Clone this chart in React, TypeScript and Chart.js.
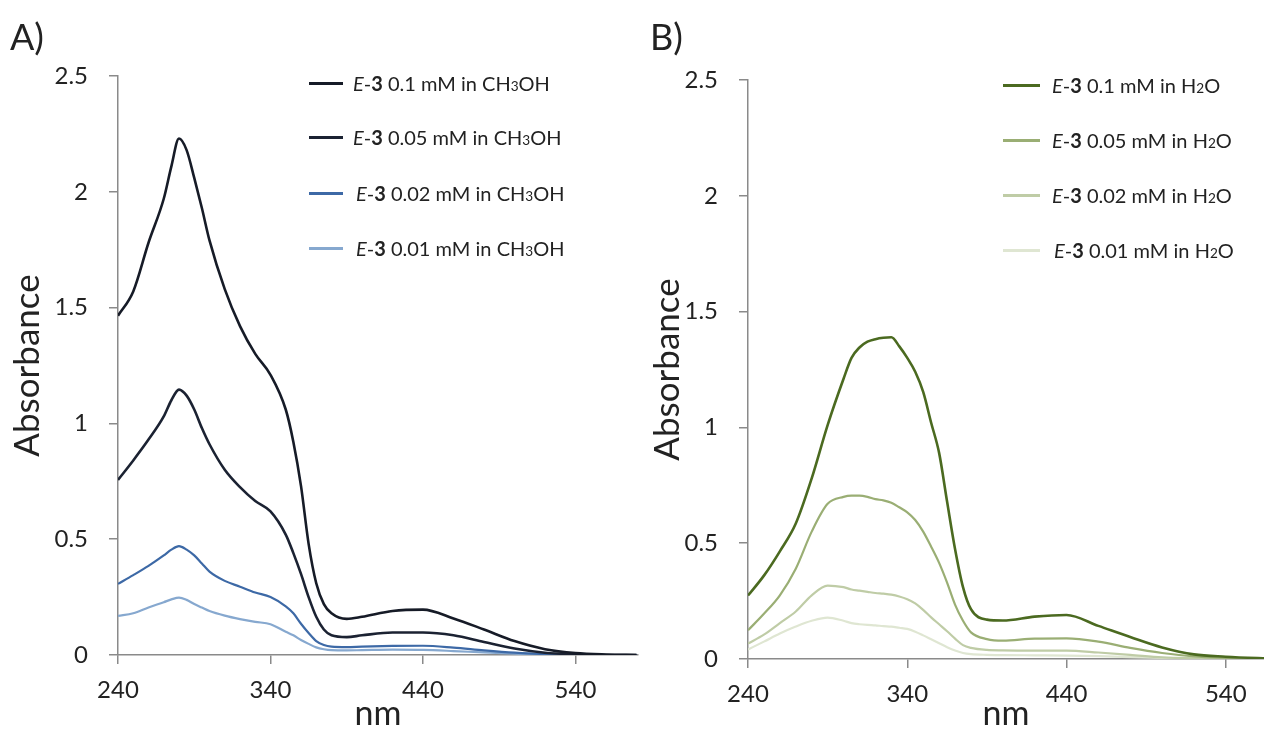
import React, { useEffect, useRef } from "react";
import { Chart, registerables } from "chart.js";

Chart.register(...registerables);

// ---------- Panel A: E-3 in CH3OH ----------
const wavelengthsA = [240, 250, 260, 270, 275, 280, 285, 290, 295, 300, 310, 320, 330, 340, 350, 355, 360, 365, 370, 375, 380, 390, 400, 420, 440, 460, 480, 500, 520, 540, 560, 580];
const methanol010 = [1.465, 1.57, 1.78, 1.97, 2.11, 2.23, 2.18, 2.06, 1.93, 1.79, 1.58, 1.42, 1.3, 1.21, 1.06, 0.92, 0.73, 0.48, 0.31, 0.22, 0.18, 0.156, 0.165, 0.19, 0.196, 0.158, 0.11, 0.06, 0.025, 0.008, 0.002, 0];
const methanol005 = [0.756, 0.84, 0.93, 1.03, 1.1, 1.146, 1.12, 1.06, 0.98, 0.91, 0.8, 0.725, 0.665, 0.62, 0.52, 0.44, 0.35, 0.25, 0.165, 0.11, 0.085, 0.077, 0.085, 0.097, 0.097, 0.085, 0.056, 0.028, 0.01, 0.003, 0, 0];
const methanol002 = [0.307, 0.345, 0.385, 0.43, 0.455, 0.47, 0.455, 0.43, 0.395, 0.36, 0.32, 0.295, 0.27, 0.25, 0.21, 0.18, 0.135, 0.095, 0.06, 0.043, 0.036, 0.034, 0.036, 0.039, 0.04, 0.032, 0.02, 0.01, 0.004, 0.001, 0, 0];
const methanol001 = [0.169, 0.18, 0.205, 0.228, 0.24, 0.248, 0.238, 0.22, 0.205, 0.19, 0.17, 0.155, 0.143, 0.133, 0.1, 0.085, 0.065, 0.048, 0.033, 0.025, 0.021, 0.02, 0.021, 0.023, 0.022, 0.017, 0.011, 0.006, 0.002, 0.001, 0, 0];

// ---------- Panel B: E-3 in H2O ----------
const wavelengthsB = [240, 250, 260, 270, 280, 290, 300, 305, 310, 315, 320, 325, 330, 335, 340, 345, 350, 355, 360, 365, 370, 375, 380, 390, 400, 420, 440, 460, 480, 500, 520, 540, 560, 565];
const water010 = [0.274, 0.36, 0.465, 0.585, 0.78, 1.01, 1.21, 1.3, 1.345, 1.37, 1.381, 1.387, 1.389, 1.35, 1.3, 1.24, 1.153, 1.02, 0.89, 0.68, 0.475, 0.31, 0.215, 0.17, 0.166, 0.183, 0.19, 0.143, 0.095, 0.05, 0.02, 0.01, 0.004, 0.003];
const water005 = [0.124, 0.195, 0.275, 0.39, 0.55, 0.67, 0.7, 0.705, 0.705, 0.7, 0.69, 0.685, 0.675, 0.655, 0.633, 0.6, 0.55, 0.485, 0.415, 0.33, 0.235, 0.165, 0.115, 0.086, 0.079, 0.088, 0.089, 0.075, 0.048, 0.026, 0.011, 0.005, 0.002, 0.001];
const water002 = [0.067, 0.105, 0.155, 0.205, 0.275, 0.317, 0.31, 0.3, 0.295, 0.29, 0.285, 0.282, 0.278, 0.27, 0.258, 0.24, 0.212, 0.18, 0.15, 0.12, 0.088, 0.06, 0.048, 0.039, 0.037, 0.036, 0.036, 0.028, 0.018, 0.007, 0.003, 0.001, 0, 0];
const water001 = [0.041, 0.075, 0.11, 0.14, 0.165, 0.179, 0.165, 0.155, 0.15, 0.147, 0.145, 0.142, 0.14, 0.135, 0.13, 0.118, 0.102, 0.085, 0.068, 0.051, 0.037, 0.026, 0.021, 0.018, 0.017, 0.016, 0.015, 0.012, 0.008, 0.005, 0.002, 0.001, 0, 0];

// ---------- shared labels / ticks ----------
const concentrations = ["0.1", "0.05", "0.02", "0.01"];
const xTickValues = [240, 340, 440, 540];
const yTickValues = [0, 0.5, 1, 1.5, 2, 2.5];
const yTickLabels = ["0", "0.5", "1", "1.5", "2", "2.5"];

const colorsA = ["#161b27", "#1b2232", "#3d69a6", "#86a8cf"];
const colorsB = ["#4b6a20", "#9aae74", "#bfcca6", "#dfe6d2"];
const widthsA = [2.6, 2.6, 2.2, 2.2];
const widthsB = [2.6, 2.2, 2.2, 2.2];

const FONT = "Lato, 'Open Sans', sans-serif";
const TEXT = "#222222";
const AXIS = "#8a8a8a";
const H = 734;

type Geo = { w: number; left: number; right: number; top: number; bottom: number; xMax: number };

function makeChart(canvas: HTMLCanvasElement, wl: number[], series: number[][], colors: string[], widths: number[], labels: string[], geo: Geo) {
  return new Chart(canvas, {
    type: "line",
    data: {
      datasets: series.map((s, i) => ({
        label: labels[i],
        data: wl.map((x, k) => ({ x, y: s[k] })),
        borderColor: colors[i],
        borderWidth: widths[i],
        pointRadius: 0,
        fill: false,
        cubicInterpolationMode: "monotone" as const,
      })),
    },
    options: {
      responsive: false,
      animation: false,
      devicePixelRatio: 1,
      layout: { padding: { top: geo.top, right: geo.w - geo.right, left: 0, bottom: 0 } },
      plugins: { legend: { display: false }, tooltip: { enabled: false }, title: { display: false } },
      scales: {
        x: {
          type: "linear",
          position: "bottom",
          min: 240,
          max: geo.xMax,
          afterBuildTicks: (axis: any) => {
            axis.ticks = xTickValues.map((v) => ({ value: v }));
          },
          afterFit: (axis: any) => {
            axis.height = H - geo.bottom;
          },
          border: { display: true, color: AXIS, width: 1.5 },
          grid: { display: true, drawOnChartArea: false, drawTicks: true, tickLength: 9, color: AXIS, lineWidth: 1.5 },
          ticks: { color: TEXT, font: { family: FONT, size: 24 }, padding: 12, maxRotation: 0, autoSkip: false, callback: (v: any) => String(v) },
          title: { display: true, text: "nm", color: TEXT, font: { family: FONT, size: 34 }, padding: { top: 0, bottom: 0 } },
        },
        y: {
          type: "linear",
          min: 0,
          max: 2.5,
          afterBuildTicks: (axis: any) => {
            axis.ticks = yTickValues.map((v) => ({ value: v }));
          },
          afterFit: (axis: any) => {
            axis.width = geo.left;
          },
          border: { display: true, color: AXIS, width: 1.5 },
          grid: { display: true, drawOnChartArea: false, drawTicks: true, tickLength: 9, color: AXIS, lineWidth: 1.5 },
          ticks: {
            color: TEXT,
            font: { family: FONT, size: 24 },
            padding: 21,
            autoSkip: false,
            callback: (v: any) => {
              const idx = yTickValues.indexOf(Number(v));
              return idx >= 0 ? yTickLabels[idx] : "";
            },
          },
          title: { display: true, text: "Absorbance", color: TEXT, font: { family: FONT, size: 35 }, padding: { top: 7, bottom: 0 } },
        },
      },
    },
  } as any);
}

function LegendRow(props: { top: number; lineLeft: number; lineWidth: number; textLeft: number; color: string; conc: string; solvent: "CH3OH" | "H2O" }) {
  const { top, lineLeft, lineWidth, textLeft, color, conc, solvent } = props;
  const small: React.CSSProperties = { fontSize: "0.68em" };
  return (
    <div style={{ position: "absolute", left: 0, top: top - 15, height: 30, width: "100%" }}>
      <div style={{ position: "absolute", left: lineLeft, top: 14, width: lineWidth, height: 2.5, background: color }} />
      <div style={{ position: "absolute", left: textLeft, top: 0, height: 30, lineHeight: "30px", whiteSpace: "nowrap", fontFamily: FONT, fontSize: 20, color: TEXT }}>
        <i>E</i>-<b>3</b> {conc} mM in{" "}
        {solvent === "CH3OH" ? (
          <>
            CH<span style={small}>3</span>OH
          </>
        ) : (
          <>
            H<span style={small}>2</span>O
          </>
        )}
      </div>
    </div>
  );
}

export default function App() {
  const refA = useRef<HTMLCanvasElement | null>(null);
  const refB = useRef<HTMLCanvasElement | null>(null);

  useEffect(() => {
    const geoA: Geo = { w: 640, left: 118, right: 638, top: 76, bottom: 655, xMax: 581 };
    const geoB: Geo = { w: 624, left: 108, right: 624, top: 80, bottom: 659, xMax: 564 };
    const a = makeChart(refA.current!, wavelengthsA, [methanol010, methanol005, methanol002, methanol001], colorsA, widthsA, concentrations, geoA);
    const b = makeChart(refB.current!, wavelengthsB, [water010, water005, water002, water001], colorsB, widthsB, concentrations, geoB);
    return () => {
      a.destroy();
      b.destroy();
    };
  }, []);

  const rowsA = [83, 137, 193, 248];
  const textLeftA = [353, 353, 356, 356];
  const rowsB = [85, 140, 195, 250];
  const textLeftB = [1052, 1052, 1052, 1054];

  return (
    <div style={{ position: "fixed", left: 0, top: 0, width: 1264, height: H, background: "#ffffff", overflow: "hidden" }}>
      <canvas ref={refA} width={640} height={H} style={{ position: "absolute", left: 0, top: 0, width: 640, height: H }} />
      <canvas ref={refB} width={624} height={H} style={{ position: "absolute", left: 640, top: 0, width: 624, height: H }} />
      <div style={{ position: "absolute", left: 10, top: 12, fontFamily: FONT, fontSize: 36, color: TEXT, lineHeight: "48px" }}>A)</div>
      <div style={{ position: "absolute", left: 650, top: 12, fontFamily: FONT, fontSize: 36, color: TEXT, lineHeight: "48px" }}>B)</div>
      {concentrations.map((c, i) => (
        <LegendRow key={"a" + i} top={rowsA[i]} lineLeft={309} lineWidth={34} textLeft={textLeftA[i]} color={colorsA[i]} conc={c} solvent="CH3OH" />
      ))}
      {concentrations.map((c, i) => (
        <LegendRow key={"b" + i} top={rowsB[i]} lineLeft={1003} lineWidth={37} textLeft={textLeftB[i]} color={colorsB[i]} conc={c} solvent="H2O" />
      ))}
    </div>
  );
}
